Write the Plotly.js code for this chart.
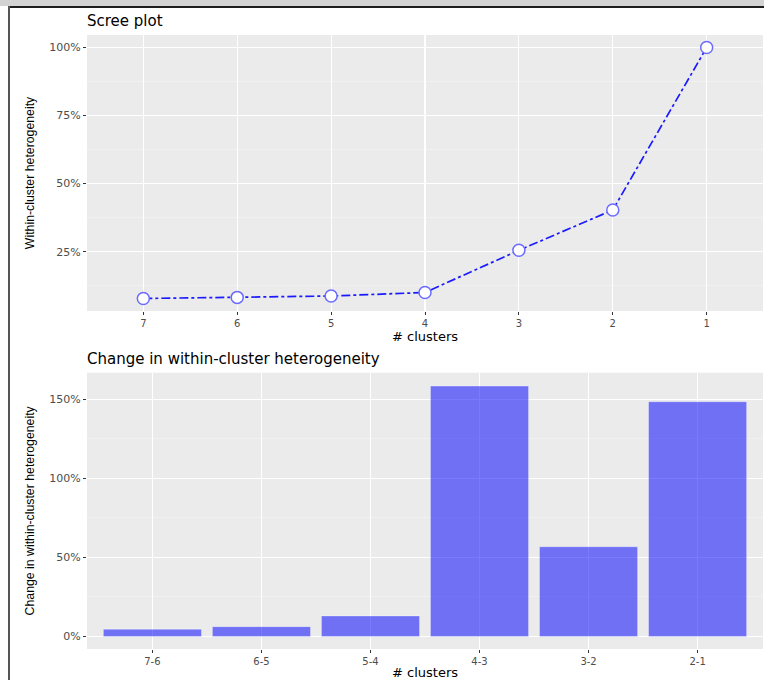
<!DOCTYPE html>
<html>
<head>
<meta charset="utf-8">
<script src="https://cdn.plot.ly/plotly-3.0.1.min.js"></script>
<style>
  html, body { margin: 0; padding: 0; background: #ffffff; }
  #wrap { position: relative; width: 764px; height: 680px; overflow: hidden; }
  #chart { position: absolute; left: 0; top: 0; width: 764px; height: 680px; }
  .frame { position: absolute; pointer-events: none; }
</style>
</head>
<body>
<div id="wrap">
  <div id="chart"></div>
  <div class="frame" style="left:0;top:0;width:764px;height:6px;background:#d3d3d3;"></div>
  <div class="frame" style="left:8px;top:6px;width:756px;height:2px;background:#1e1e1e;"></div>
  <div class="frame" style="left:8px;top:6px;width:2px;height:674px;background:#555555;"></div>
</div>
<script>
// Number of clusters, merged from 7 down to 1
const clusters = ['7', '6', '5', '4', '3', '2', '1'];
// Within-cluster heterogeneity (% of the one-cluster total)
const heterogeneity = [7.8, 8.2, 8.7, 10.0, 25.5, 40.3, 100];

// Step between consecutive cluster counts
const steps = ['7-6', '6-5', '5-4', '4-3', '3-2', '2-1'];
// Relative change in heterogeneity for each step (%)
const changePct = [4.6, 6.2, 13.0, 158.5, 56.8, 148.6];

const WIDE = 'DejaVu Sans, Verdana, sans-serif';
const FONT = 'Liberation Sans, Arial, sans-serif';
const PANEL_BG = '#ebebeb';

const scree = {
  type: 'scatter',
  mode: 'lines+markers',
  x: clusters,
  y: heterogeneity,
  xaxis: 'x', yaxis: 'y',
  line: { color: '#1a1aff', width: 1.7, dash: 'dashdot' },
  marker: { symbol: 'circle', size: 12, color: '#ffffff',
            line: { color: '#6b6bff', width: 1.5 } },
  hoverinfo: 'x+y'
};

const change = {
  type: 'bar',
  x: steps,
  y: changePct,
  xaxis: 'x2', yaxis: 'y2',
  width: 0.9,
  marker: { color: 'rgba(0,0,255,0.52)',
            line: { color: 'rgba(255,255,255,0.35)', width: 1 } },
  hoverinfo: 'x+y'
};

function xAxis(n, anchor) {
  return {
    anchor: anchor,
    domain: [0, 1],
    type: 'category',
    range: [-0.6, n - 1 + 0.6],
    showgrid: true, gridcolor: '#ffffff', gridwidth: 1.1,
    zeroline: false, showline: false,
    ticks: 'outside', ticklen: 3, tickwidth: 1, tickcolor: '#333333',
    tickfont: { family: WIDE, size: 10, color: '#4d4d4d' },
    title: { text: '# clusters', font: { family: WIDE, size: 13, color: '#000000' }, standoff: 2 }
  };
}

function yAxis(domain, range, dtick, anchor, title) {
  return {
    anchor: anchor,
    domain: domain,
    range: range,
    tickmode: 'linear', tick0: 0, dtick: dtick,
    ticksuffix: '%',
    showgrid: true, gridcolor: '#ffffff', gridwidth: 1.1,
    minor: { tick0: 0, dtick: dtick / 2, showgrid: true, gridcolor: '#f7f7f7', gridwidth: 0.5, ticks: '' },
    zeroline: false, showline: false,
    ticks: 'outside', ticklen: 3, tickwidth: 1, tickcolor: '#333333',
    tickfont: { family: WIDE, size: 11, color: '#4d4d4d' },
    title: { text: title, font: { family: FONT, size: 12.3, color: '#000000' }, standoff: 12 }
  };
}

const layout = {
  width: 764,
  height: 680,
  margin: { l: 87, r: 1, t: 35, b: 31 },
  paper_bgcolor: '#ffffff',
  plot_bgcolor: PANEL_BG,
  showlegend: false,
  font: { family: FONT },
  xaxis: xAxis(clusters.length, 'y'),
  yaxis: yAxis([0.5505, 1], [3.2, 104.6], 25, 'x', 'Within-cluster heterogeneity'),
  xaxis2: xAxis(steps.length, 'y2'),
  yaxis2: yAxis([0, 0.45], [-7.95, 166.95], 50, 'x2', 'Change in within-cluster heterogeneity'),
  annotations: [
    { text: 'Scree plot', xref: 'paper', yref: 'paper', x: 0, y: 1,
      xanchor: 'left', yanchor: 'bottom', yshift: 3, xshift: -2, showarrow: false,
      font: { family: WIDE, size: 15, color: '#000000' } },
    { text: 'Change in within-cluster heterogeneity', xref: 'paper', yref: 'paper', x: 0, y: 0.45,
      xanchor: 'left', yanchor: 'bottom', yshift: 3, xshift: -2, showarrow: false,
      font: { family: WIDE, size: 15, color: '#000000' } }
  ]
};

Plotly.newPlot('chart', [scree, change], layout, { displayModeBar: false, staticPlot: true });
</script>
</body>
</html>
